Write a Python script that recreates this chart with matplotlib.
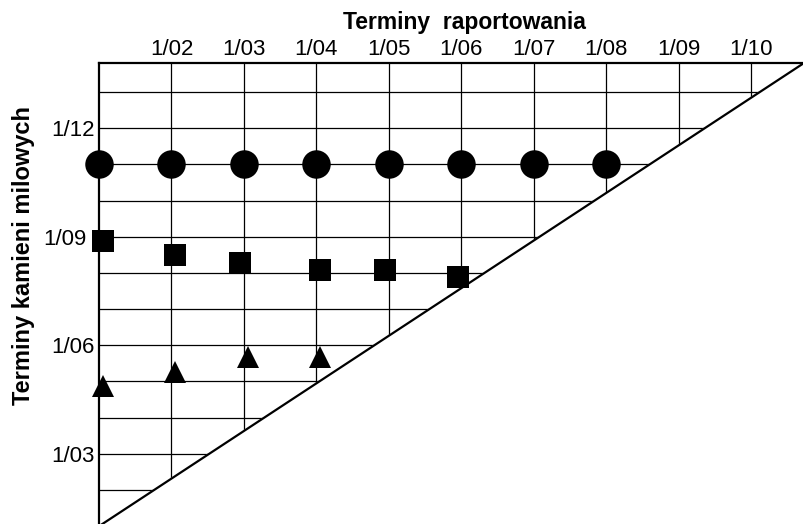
import matplotlib
matplotlib.use("Agg")
from matplotlib import pyplot as plt
from matplotlib.transforms import ScaledTranslation
import numpy as np

plt.rcParams['font.family'] = ['Liberation Sans', 'DejaVu Sans']

# report dates (x) and milestone dates (y), month numbers in year 1
x_ticks = [2, 3, 4, 5, 6, 7, 8, 9, 10]
x_labels = ["1/02", "1/03", "1/04", "1/05", "1/06", "1/07", "1/08", "1/09", "1/10"]
y_ticks = [3, 6, 9, 12]
y_labels = ["1/03", "1/06", "1/09", "1/12"]
grid_x = [2, 3, 4, 5, 6, 7, 8, 9, 10]
grid_y = [2, 3, 4, 5, 6, 7, 8, 9, 10, 11, 12, 13]

# milestone 1 - circles
circ_x = [1, 2, 3, 4, 5, 6, 7, 8]
circ_y = [11, 11, 11, 11, 11, 11, 11, 11]
# milestone 2 - squares
sq_x = [1.05, 2.05, 2.95, 4.05, 4.95, 5.95]
sq_y = [8.88, 8.50, 8.27, 8.08, 8.08, 7.89]
# milestone 3 - triangles
tri_x = [1.05, 2.05, 3.05, 4.05]
tri_y = [4.87, 5.26, 5.68, 5.68]

xmin, xmax = 1, 10.73
ymin, ymax = 1, 13.8

W, H = 804, 524
fig = plt.figure(figsize=(W / 100, H / 100), dpi=100)
ax = fig.add_axes([99 / W, (H - 526.2) / H, 705 / W, (526.2 - 63) / H])
ax.set_xlim(xmin, xmax)
ax.set_ylim(ymin, ymax)

# grid
for gx in grid_x:
    ax.plot([gx, gx], [ymin, ymax], color='k', lw=0.9, zorder=1)
for gy in grid_y:
    ax.plot([xmin, xmax], [gy, gy], color='k', lw=0.9, zorder=1)

# blank the area under the diagonal
ax.fill([xmin, xmax, xmax], [ymin, ymax, ymin], color='white', zorder=2)
ax.plot([0, 1], [0, 1], transform=ax.transAxes, color='k', lw=1.6,
        zorder=3, clip_on=False)

ax.plot(circ_x, circ_y, 'o', color='k', ms=20.5, mew=0, zorder=5, clip_on=False)
ax.plot(sq_x, sq_y, 's', color='k', ms=16, mew=0, zorder=5, clip_on=False)
ax.plot(tri_x, tri_y, '^', color='k', ms=15.5, mew=0, zorder=5, clip_on=False)

for s in ['right', 'bottom']:
    ax.spines[s].set_visible(False)
for s in ['left', 'top']:
    ax.spines[s].set_linewidth(1.6)
    ax.spines[s].set_zorder(4)

ax.xaxis.tick_top()
ax.set_xticks(x_ticks)
ax.set_xticklabels(x_labels, fontsize=16)
ax.set_yticks(y_ticks)
ax.set_yticklabels(y_labels, fontsize=16)
ax.tick_params(axis='x', length=0, pad=2)
ax.tick_params(axis='y', length=0, pad=3)

# the 1/09 label sits a bit left of the square marker
lab = ax.get_yticklabels()[2]
lab.set_transform(lab.get_transform() + ScaledTranslation(-8 / 100, 0, fig.dpi_scale_trans))

fig.text(464 / W, 1 - 22 / H, "Terminy  raportowania", fontsize=16.5,
         fontweight='bold', ha='center', va='center')
fig.text(24 / W, 1 - 255 / H, "Terminy kamieni milowych", fontsize=17,
         fontweight='bold', ha='center', va='center', rotation=90)

fig.savefig("out.png", dpi=100)
